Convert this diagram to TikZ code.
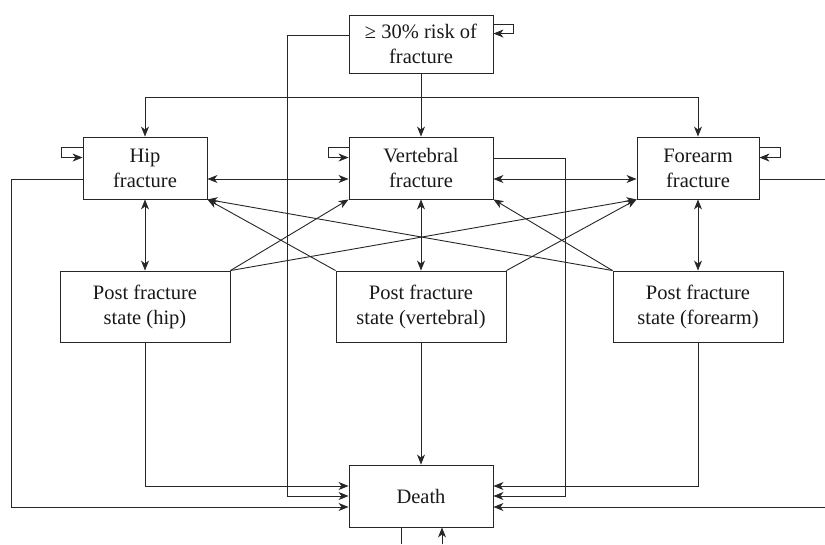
\documentclass[tikz,border=0pt]{standalone}
\usepackage{fontspec}
\setmainfont{Liberation Serif}
\usetikzlibrary{arrows.meta}
\begin{document}
\begin{tikzpicture}[x=1pt,y=-1pt,
  box/.style={draw=black!85,line width=0.9pt,align=center,text=black!90,
    font=\fontsize{20.5pt}{25pt}\selectfont,inner sep=0pt},
  conn/.style={draw=black!85,line width=0.9pt},
  >={Stealth[length=10pt,width=8pt,inset=3pt]}]
\useasboundingbox (0,0) rectangle (825,544);
\node[box,minimum width=144pt,minimum height=58pt] (top) at (421,44) {≥ 30\% risk of\\fracture};
\node[box,minimum width=124pt,minimum height=62pt] (hip) at (145,168) {Hip\\fracture};
\node[box,minimum width=144pt,minimum height=62pt] (vert) at (421,168) {Vertebral\\fracture};
\node[box,minimum width=122pt,minimum height=62pt] (fore) at (698,168) {Forearm\\fracture};
\node[box,minimum width=170pt,minimum height=71pt] (phip) at (145,306.5) {Post fracture\\state (hip)};
\node[box,minimum width=170pt,minimum height=71pt] (pvert) at (421,306.5) {Post fracture\\state (vertebral)};
\node[box,minimum width=170pt,minimum height=71pt] (pfore) at (698,306.5) {Post fracture\\state (forearm)};
\node[box,minimum width=144pt,minimum height=62pt] (death) at (421,496) {Death};
% top box
\draw[conn,->] (top) -- (vert);
\draw[conn,->] ([yshift=-10pt]top.north east) -- ++(20,0) -- ++(0,9) -- ++(-20,0);
\draw[conn,->] ([yshift=9pt]top.west) -- ++(-61,0) |- (death.west);
% top horizontal line to hip and forearm
\draw[conn,<->] (hip.north) -- ++(0,-39) -| (fore.north);
% self loops
\draw[conn,->] ([yshift=-11pt]hip.north west) -- ++(-21,0) -- ++(0,10) -- ++(21,0);
\draw[conn,->] ([yshift=-11pt]vert.north west) -- ++(-20,0) -- ++(0,10) -- ++(20,0);
\draw[conn,->] ([yshift=-11pt]fore.north east) -- ++(21,0) -- ++(0,10) -- ++(-21,0);
% horizontal between fractures
\draw[conn,<->] ([yshift=-11pt]hip.east) -- ([yshift=-11pt]vert.west);
\draw[conn,<->] ([yshift=-11pt]vert.east) -- ([yshift=-11pt]fore.west);
% fracture to post fracture
\draw[conn,<->] (hip) -- (phip);
\draw[conn,<->] (vert) -- (pvert);
\draw[conn,<->] (fore) -- (pfore);
% diagonals
\draw[conn,->] (phip.north east) -- (vert.south west);
\draw[conn,->] (phip.north east) -- (fore.south west);
\draw[conn,->] (pvert.north west) -- (hip.south east);
\draw[conn,->] (pvert.north east) -- (fore.south west);
\draw[conn,->] (pfore.north west) -- (hip.south east);
\draw[conn,->] (pfore.north west) -- (vert.south east);
% to death
\draw[conn,->] (pvert) -- (death);
\draw[conn,->] (phip.south) |- ([yshift=10pt]death.west);
\draw[conn,->] (pfore.south) |- ([yshift=10pt]death.east);
\draw[conn,->] ([yshift=-11pt]hip.west) -- ++(-71,0) |- ([yshift=-11pt]death.west);
\draw[conn,->] ([yshift=-11pt]fore.east) -- ++(67,0) |- ([yshift=-11pt]death.east);
\draw[conn,->] ([yshift=10pt]vert.east) -- ++(72,0) |- (death.east);
% below death
\coordinate (dout) at ([xshift=-20pt,yshift=-17pt]death.south);
\coordinate (din) at ([xshift=21pt,yshift=-17pt]death.south);
\draw[conn] ([xshift=-20pt]death.south) -- (dout);
\draw[conn,->] (din) -- ([xshift=21pt]death.south);
\end{tikzpicture}
\end{document}
